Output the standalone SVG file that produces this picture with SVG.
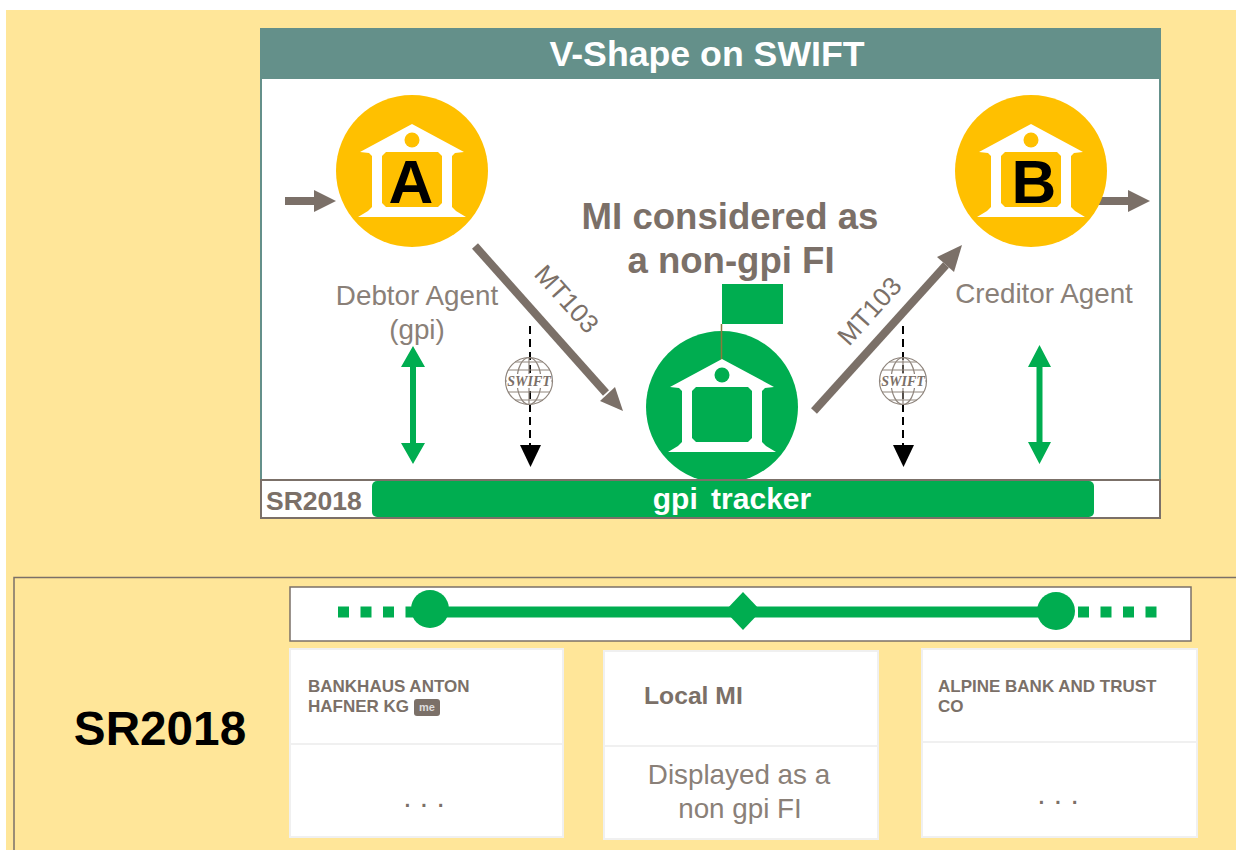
<svg xmlns="http://www.w3.org/2000/svg" width="1236" height="850" viewBox="0 0 1236 850">
<style>
text{font-family:"Liberation Sans",Arial,sans-serif}
.g{fill:#7b7068}
.lab{font-size:27.800px;fill:#8a8078;text-anchor:middle}
.head{font-size:36.600px;font-weight:bold;fill:#7b7068;text-anchor:middle}
.mt{font-size:26px;fill:#7b7068;text-anchor:middle}
.bold{font-size:17px;font-weight:bold;fill:#7b7068}
.card{fill:#fff;stroke:#f0f0f0;stroke-width:2}
.flow{stroke:#7b7068;stroke-width:8;fill:none}
.dash{stroke:#000;stroke-width:2;stroke-dasharray:8 5;fill:none}
.gr{stroke:#00ad50;fill:none}
.glob{fill:none;stroke:#8f857d;stroke-width:1.200}
</style>
<defs>
<g id="bank">
<path fill="#fff" d="M0-47L52-19L43-18L40-15V36L44 40L54 46H-54L-44 40L-40 36V-15L-43-18L-52-19Z"/>
<path d="M-26-19H26L30-15V32L26 36H-26L-30 32V-15Z"/>
<circle cy="-31" r="7.500"/>
</g>
<g id="globe">
<circle class="glob" r="23.500"/>
<ellipse class="glob" rx="12" ry="23.500"/>
<path class="glob" d="M0-23.500V23.500M-21-11H21M-23 0H23M-21 11H21M-14-19H14M-14 19H14"/>
<rect x="-22" y="-7" width="44" height="14" fill="#fff"/>
<text y="5" text-anchor="middle" font-size="14" font-weight="bold" font-style="italic" style="font-family:'Liberation Serif',serif" fill="#7b7068">SWIFT</text>
</g>
</defs>
<rect width="1236" height="850" fill="#fff"/>
<rect x="6" y="10" width="1230" height="840" fill="#ffe699"/>

<g id="panel">
<rect x="261" y="78" width="899" height="440" fill="#fff" stroke="#64908a" stroke-width="2"/>
<rect x="260" y="28" width="901" height="50" fill="#64908a"/>
<text x="707" y="66" font-size="35.700" font-weight="bold" fill="#fff" text-anchor="middle">V-Shape on SWIFT</text>
</g>

<g id="connectors">
<path class="flow" d="M285 201H316"/><path class="g" d="M314 190L336 201L314 212Z"/>
<path class="flow" d="M1098 201H1130"/><path class="g" d="M1128 190L1150 201L1128 212Z"/>
<path class="flow" d="M475 246L606 393"/><path class="g" d="M623 411L600 401L615 387Z"/>
<path class="flow" d="M814 411L946 265"/><path class="g" d="M962 245L954 272L937 257Z"/>
<path class="dash" d="M530 326V448"/><path d="M520 445H541L530.500 467Z"/>
<path class="dash" d="M903 326V448"/><path d="M893 445H914L903.500 467Z"/>
<path class="gr" stroke-width="6" d="M413 365V445"/><path fill="#00ad50" d="M413 346L425 367H401ZM413 464L425 443H401Z"/>
<path class="gr" stroke-width="6" d="M1039.500 365V445"/><path fill="#00ad50" d="M1039.500 345L1051 367H1028ZM1039.500 464L1051 442H1028Z"/>
</g>

<g id="swift-left"><use href="#globe" x="529" y="381"/></g>
<g id="swift-right"><use href="#globe" x="903" y="381"/></g>

<g id="debtor-agent">
<circle cx="412" cy="171" r="76" fill="#ffc000"/>
<use href="#bank" x="412" y="171" fill="#ffc000"/>
<text x="411" y="203" font-size="62" font-weight="bold" text-anchor="middle">A</text>
<text class="lab" x="417" y="305">Debtor Agent</text>
<text class="lab" x="417" y="339">(gpi)</text>
</g>

<g id="creditor-agent">
<circle cx="1031" cy="171" r="76" fill="#ffc000"/>
<use href="#bank" x="1031" y="171" fill="#ffc000"/>
<text x="1034" y="203" font-size="62" font-weight="bold" text-anchor="middle">B</text>
<text class="lab" x="1044" y="303">Creditor Agent</text>
</g>

<g id="local-mi">
<text class="head" x="730" y="229">MI considered as</text>
<text class="head" x="731" y="273">a non-gpi FI</text>
<rect x="722" y="284" width="61" height="40" fill="#00ad50"/>
<circle cx="722" cy="407" r="76" fill="#00ad50"/>
<path d="M721.500 324V360" stroke="#8a7a3a" stroke-width="1.500"/>
<use href="#bank" x="722" y="406" fill="#00ad50"/>
</g>

<g id="tracker-bar">
<rect x="261" y="480" width="899" height="38" fill="#fff" stroke="#7b7068" stroke-width="2"/>
<rect x="372" y="481" width="722" height="36" rx="5" fill="#00ad50"/>
<text x="266" y="510" font-size="26.500" font-weight="bold" fill="#7b7068">SR2018</text>
<text x="732" y="509" font-size="30" font-weight="bold" fill="#fff" text-anchor="middle" word-spacing="5">gpi tracker</text>
</g>

<g id="sr2018-section">
<path d="M14 850V577.500H1236" fill="none" stroke="#7b7068" stroke-width="1.500"/>
<text x="160" y="745" font-size="47.700" font-weight="bold" text-anchor="middle">SR2018</text>
</g>

<g id="timeline">
<rect x="290" y="587" width="901" height="54" fill="#fff" stroke="#7b7068" stroke-width="1.500"/>
<path d="M338 612H415" stroke="#00ad50" stroke-width="11" stroke-dasharray="11 11.500" fill="none"/>
<path d="M430 612H1056" stroke="#00ad50" stroke-width="11" fill="none"/>
<path d="M1056 612H1158" stroke="#00ad50" stroke-width="11" stroke-dasharray="11 11.500" stroke-dashoffset="-22" fill="none"/>
<circle cx="430" cy="609" r="19" fill="#00ad50"/>
<circle cx="1056" cy="611" r="19" fill="#00ad50"/>
<path d="M743 592L761 611L743 630L725 611Z" fill="#00ad50"/>
</g>

<g id="card-left">
<rect class="card" x="290" y="649" width="273" height="188"/>
<path d="M290 744H563" stroke="#f0f0f0" stroke-width="2"/>
<text class="bold" x="308" y="692">BANKHAUS ANTON</text>
<text class="bold" x="308" y="712">HAFNER KG</text>
<rect x="414" y="699" width="26" height="17" rx="3" fill="#7b7068"/>
<text x="427" y="711" font-size="11" font-weight="bold" fill="#ddd" text-anchor="middle">me</text>
<text x="424" y="807" font-size="30" fill="#7b7068" text-anchor="middle">. . .</text>
</g>

<g id="card-middle">
<rect class="card" x="604" y="651" width="274" height="188"/>
<path d="M604 746H878" stroke="#f0f0f0" stroke-width="2"/>
<text x="644" y="704" font-size="24.700" font-weight="bold" fill="#7b7068">Local MI</text>
<text class="lab" x="739" y="784">Displayed as a</text>
<text class="lab" x="740" y="818">non gpi FI</text>
</g>

<g id="card-right">
<rect class="card" x="922" y="649" width="275" height="188"/>
<path d="M922 742H1197" stroke="#f0f0f0" stroke-width="2"/>
<text class="bold" x="938" y="692" font-size="17.200">ALPINE BANK AND TRUST</text>
<text class="bold" x="938" y="712">CO</text>
<text x="1058" y="804" font-size="30" fill="#7b7068" text-anchor="middle">. . .</text>
</g>

<g id="labels">
<text class="mt" transform="translate(560 305) rotate(48)">MT103</text>
<text class="mt" transform="translate(876 317) rotate(-48)">MT103</text>
</g>
</svg>
